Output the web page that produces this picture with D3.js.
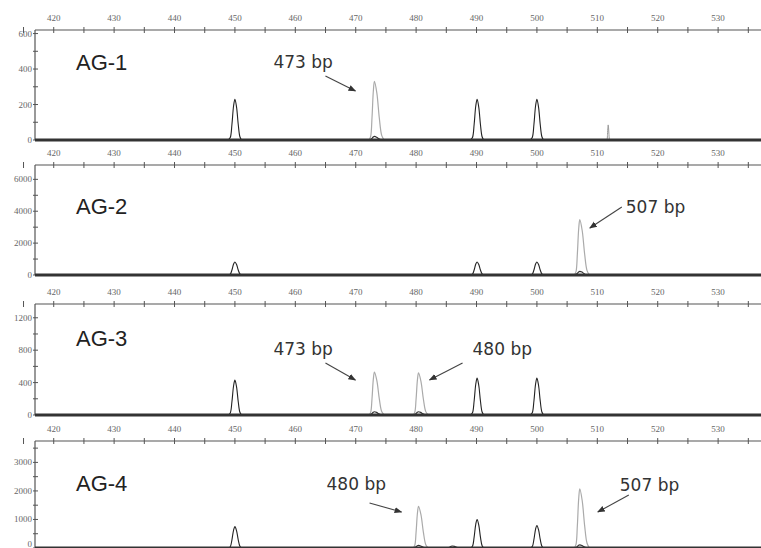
<!DOCTYPE html>
<html>
<head>
<meta charset="utf-8">
<script src="https://cdnjs.cloudflare.com/ajax/libs/d3/7.8.5/d3.min.js"></script>
<style>
  body { margin: 0; background: #fff; }
  svg { display: block; }
</style>
</head>
<body>
<div id="chart"></div>
<script>
// ---- data ----
const samples = ["AG-1", "AG-2", "AG-3", "AG-4"];
const bpTicks = [420, 430, 440, 450, 460, 470, 480, 490, 500, 510, 520, 530];
const bpMinor = [415, 425, 435, 445, 455, 465, 475, 485, 495, 505, 515, 525, 535];
const yMaxes = [620, 6900, 1370, 3750];
const yTicks = [
  [0, 200, 400, 600],
  [0, 2000, 4000, 6000],
  [0, 400, 800, 1200],
  [0, 1000, 2000, 3000]
];
const yMinor = [
  [100, 300, 500],
  [1000, 3000, 5000],
  [200, 600, 1000],
  [500, 1500, 2500, 3500]
];
// size standard peaks (black trace): [bp, height]
const ladderPeaks = [
  [[450, 230], [490.1, 230], [500, 230]],
  [[450, 820], [490.1, 820], [500, 820]],
  [[450, 430], [490.1, 455], [500, 455]],
  [[450, 750], [490.1, 1000], [500, 790]]
];
// allele peaks (grey trace): [bp, height]
const allelePeaks = [
  [[473.1, 330]],
  [[507.1, 3470]],
  [[473.1, 530], [480.4, 520]],
  [[480.4, 1460], [507.1, 2070]]
];
// small black bumps under the allele peaks
const bumpPeaks = [
  [[473.1, 20]],
  [[507.1, 230]],
  [[473.1, 40], [480.4, 40]],
  [[480.4, 90], [486, 70], [507.1, 110]]
];
// stray spikes (grey)
const spikePeaks = [
  [[511.8, 85]],
  [],
  [],
  []
];
const annotations = [
  { panel: 0, text: "473 bp", bp: 473.1 },
  { panel: 1, text: "507 bp", bp: 507.1 },
  { panel: 2, text: "473 bp", bp: 473.1 },
  { panel: 2, text: "480 bp", bp: 480.4 },
  { panel: 3, text: "480 bp", bp: 480.4 },
  { panel: 3, text: "507 bp", bp: 507.1 }
];

// ---- layout ----
const width = 761, height = 548;
const left = 35;
const panelTop = [30, 165, 304, 441];
const panelBase = [140, 275, 415, 548];
const labelDy = [40, 49, 42, 50];
// text x / baseline, arrow start, arrow end (relative to peak x and panel top)
const annoLayout = [
  { tx: -101, ty: 38, x1: -49, y1: 46, x2: -19, y2: 61 },
  { tx: 46, ty: 48, x1: 42, y1: 42, x2: 10, y2: 63 },
  { tx: -101, ty: 51, x1: -49, y1: 59, x2: -19, y2: 76 },
  { tx: 54, ty: 51, x1: 44, y1: 59, x2: 11, y2: 76 },
  { tx: -92, ty: 49, x1: -49, y1: 62, x2: -17, y2: 71 },
  { tx: 40, ty: 50, x1: 49, y1: 54, x2: 18, y2: 71 }
];

const svg = d3.select("#chart").append("svg")
  .attr("width", width)
  .attr("height", height)
  .style("font-family", "Arial, 'Liberation Sans', sans-serif");

svg.append("defs").append("marker")
  .attr("id", "arrowHead")
  .attr("viewBox", "0 0 10 10")
  .attr("refX", 9).attr("refY", 5)
  .attr("markerWidth", 7).attr("markerHeight", 7)
  .attr("orient", "auto")
  .append("path")
  .attr("d", "M0,1 L10,5 L0,9 Z")
  .attr("fill", "#333");

const x = d3.scaleLinear().domain([416.9, 537.1]).range([left, width]);

// peak outline template: [offset in half-widths, fraction of height]
const shape = [[-1, 0], [-0.7, 0.06], [-0.45, 0.38], [-0.2, 0.84], [0, 1],
               [0.25, 0.8], [0.5, 0.38], [0.75, 0.08], [1, 0]];

function peakPath(y, bp, h, hwL, hwR) {
  const line = d3.line()
    .x(d => x(bp + d[0] * (d[0] < 0 ? hwL : hwR)))
    .y(d => y(d[1] * h))
    .curve(d3.curveCatmullRom);
  return line(shape);
}

samples.forEach((name, i) => {
  const y = d3.scaleLinear().domain([0, yMaxes[i]]).range([panelBase[i], panelTop[i]]);
  const g = svg.append("g");

  // --- top bp axis ---
  g.append("line")
    .attr("x1", left).attr("x2", width)
    .attr("y1", panelTop[i]).attr("y2", panelTop[i])
    .attr("stroke", "#555").attr("stroke-width", 1.2);

  g.selectAll(".bpTick")
    .data(bpTicks.concat(bpMinor))
    .enter().append("line")
    .attr("x1", d => x(d)).attr("x2", d => x(d))
    .attr("y1", panelTop[i] - 3).attr("y2", panelTop[i] + 3)
    .attr("stroke", "#555").attr("stroke-width", 1);

  g.selectAll(".bpLabel")
    .data(bpTicks)
    .enter().append("text")
    .attr("x", d => x(d))
    .attr("y", panelTop[i] - 9)
    .attr("text-anchor", "middle")
    .style("font-size", "9px")
    .style("font-family", "'Liberation Serif', serif")
    .style("fill", "#666")
    .text(d => d);

  // --- left intensity axis ---
  g.append("line")
    .attr("x1", left).attr("x2", left)
    .attr("y1", panelTop[i]).attr("y2", panelBase[i])
    .attr("stroke", "#555").attr("stroke-width", 1.2);

  g.selectAll(".yTick")
    .data(yTicks[i].concat(yMinor[i]))
    .enter().append("line")
    .attr("x1", left - 2).attr("x2", left + 3)
    .attr("y1", d => y(d)).attr("y2", d => y(d))
    .attr("stroke", "#555").attr("stroke-width", 1);

  g.selectAll(".yLabel")
    .data(yTicks[i])
    .enter().append("text")
    .attr("x", left - 3)
    .attr("y", d => Math.min(y(d) + 3, height - 1))
    .attr("text-anchor", "end")
    .style("font-size", "9px")
    .style("font-family", "'Liberation Serif', serif")
    .style("fill", "#666")
    .text(d => d);

  // --- traces ---
  g.selectAll(".allele")
    .data(allelePeaks[i])
    .enter().append("path")
    .attr("d", d => peakPath(y, d[0], d[1], 0.9, 1.6))
    .attr("fill", "none")
    .attr("stroke", "#aaa")
    .attr("stroke-width", 1.2);

  g.selectAll(".spike")
    .data(spikePeaks[i])
    .enter().append("path")
    .attr("d", d => peakPath(y, d[0], d[1], 0.25, 0.25))
    .attr("fill", "none")
    .attr("stroke", "#999")
    .attr("stroke-width", 1);

  g.selectAll(".ladder")
    .data(ladderPeaks[i])
    .enter().append("path")
    .attr("d", d => peakPath(y, d[0], d[1], 1.1, 1.1))
    .attr("fill", "none")
    .attr("stroke", "#222")
    .attr("stroke-width", 1.1);

  g.selectAll(".bump")
    .data(bumpPeaks[i])
    .enter().append("path")
    .attr("d", d => peakPath(y, d[0], d[1], 1.0, 1.4))
    .attr("fill", "none")
    .attr("stroke", "#333")
    .attr("stroke-width", 1.2);

  // baseline
  g.append("line")
    .attr("x1", left).attr("x2", width)
    .attr("y1", y(0)).attr("y2", y(0))
    .attr("stroke", "#333").attr("stroke-width", 2.8);

  // sample label
  g.append("text")
    .attr("x", 76)
    .attr("y", panelTop[i] + labelDy[i])
    .style("font-size", "22px")
    .style("fill", "#222")
    .text(name);
});

// --- allele annotations ---
annotations.forEach((a, k) => {
  const L = annoLayout[k];
  const px = x(a.bp), top = panelTop[a.panel];
  svg.append("text")
    .attr("x", px + L.tx)
    .attr("y", top + L.ty)
    .style("font-size", "17px")
    .style("font-family", "'DejaVu Sans', Verdana, sans-serif")
    .style("fill", "#333")
    .text(a.text);
  svg.append("line")
    .attr("x1", px + L.x1).attr("y1", top + L.y1)
    .attr("x2", px + L.x2).attr("y2", top + L.y2)
    .attr("stroke", "#444")
    .attr("stroke-width", 1.1)
    .attr("marker-end", "url(#arrowHead)");
});
</script>
</body>
</html>
